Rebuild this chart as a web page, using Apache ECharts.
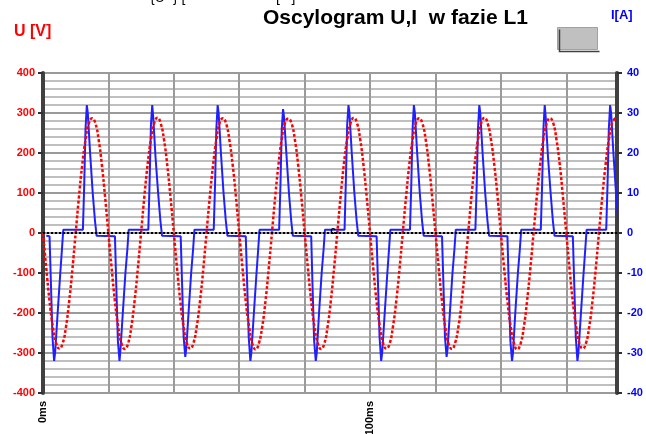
<!DOCTYPE html>
<html>
<head>
<meta charset="utf-8">
<script src="https://cdn.jsdelivr.net/npm/echarts@6/dist/echarts.min.js"></script>
<style>
  html, body { margin: 0; padding: 0; background: #fff; }
  #main { width: 646px; height: 434px; }
</style>
</head>
<body>
<div id="main"></div>
<script>
// napiecie U [V], probki co 1 ms (0..175 ms)
const voltage = [
  0, -88, -170, -234, -275, -289, -276, -236, -171, -90, 1, 91, 171, 233, 274, 287, 275, 234, 170, 89,
  -1, -89, -171, -235, -276, -290, -277, -235, -170, -89, 2, 92, 172, 234, 275, 288, 274, 233, 169, 88,
  0, -90, -172, -236, -276, -289, -275, -234, -171, -91, 1, 90, 170, 233, 276, 287, 273, 232, 170, 90,
  -1, -88, -171, -234, -277, -291, -276, -236, -172, -90, 0, 91, 171, 235, 275, 286, 274, 234, 171, 89,
  0, -89, -170, -235, -275, -290, -277, -235, -170, -88, 2, 92, 173, 234, 274, 288, 275, 233, 169, 88,
  -1, -90, -172, -234, -276, -289, -276, -234, -171, -90, 1, 90, 171, 233, 275, 287, 274, 234, 170, 89,
  0, -88, -171, -236, -277, -290, -275, -235, -172, -91, 0, 91, 172, 234, 276, 288, 273, 232, 169, 90,
  -1, -89, -170, -235, -276, -291, -277, -236, -170, -89, 1, 92, 171, 235, 274, 287, 275, 233, 171, 88,
  0, -90, -172, -234, -275, -289, -276, -235, -171, -90, 2, 91, 170, 233, 275, 287
];

// prad I [A], punkty [t ms, I]
const current = [
  [1.0, -0.7], [2.0, -0.8], [2.4, -12], [2.9, -26], [3.4, -32], [3.7, -30], [4.4, -21], [5.2, -11], [5.8, -4], [6.2, 0.8],
  [12.2, 0.8], [12.6, 12], [13.0, 26], [13.4, 32], [13.7, 30], [14.4, 20], [15.2, 10], [15.9, 3], [16.4, -0.7],
  [22.0, -0.8], [22.4, -13], [22.9, -27], [23.4, -32], [23.7, -29], [24.4, -20], [25.2, -10], [25.8, -4], [26.2, 0.8],
  [32.2, 0.8], [32.6, 13], [33.0, 27], [33.4, 32], [33.7, 29], [34.4, 19], [35.2, 10], [35.9, 3], [36.4, -0.7],
  [42.1, -0.8], [42.5, -12], [43.0, -26], [43.5, -31], [43.8, -29], [44.5, -20], [45.3, -10], [45.9, -4], [46.3, 0.8],
  [52.2, 0.8], [52.6, 12], [53.0, 26], [53.4, 32], [53.7, 30], [54.4, 20], [55.2, 10], [55.9, 3], [56.4, -0.7],
  [62.0, -0.8], [62.4, -12], [62.9, -26], [63.4, -32], [63.7, -30], [64.4, -21], [65.2, -11], [65.8, -4], [66.2, 0.8],
  [72.2, 0.8], [72.6, 12], [73.0, 26], [73.4, 31], [73.7, 29], [74.4, 20], [75.2, 10], [75.9, 3], [76.4, -0.7],
  [82.0, -0.8], [82.4, -13], [82.9, -27], [83.4, -32], [83.7, -30], [84.4, -20], [85.2, -10], [85.8, -4], [86.2, 0.8],
  [92.2, 0.8], [92.6, 13], [93.0, 27], [93.4, 32], [93.7, 30], [94.4, 20], [95.2, 10], [95.9, 3], [96.4, -0.7],
  [102.0, -0.8], [102.4, -12], [102.9, -26], [103.4, -32], [103.7, -30], [104.4, -21], [105.2, -11], [105.8, -4], [106.2, 0.8],
  [112.2, 0.8], [112.6, 12], [113.0, 26], [113.4, 32], [113.7, 30], [114.4, 20], [115.2, 10], [115.9, 3], [116.4, -0.7],
  [122.0, -0.8], [122.4, -12], [122.9, -26], [123.4, -31], [123.7, -29], [124.4, -20], [125.2, -10], [125.8, -4], [126.2, 0.8],
  [132.2, 0.8], [132.6, 12], [133.0, 26], [133.4, 32], [133.7, 30], [134.4, 20], [135.2, 10], [135.9, 3], [136.4, -0.7],
  [142.0, -0.8], [142.4, -13], [142.9, -27], [143.4, -32], [143.7, -30], [144.4, -20], [145.2, -10], [145.8, -4], [146.2, 0.8],
  [152.2, 0.8], [152.6, 12], [153.0, 26], [153.4, 32], [153.7, 29], [154.4, 19], [155.2, 10], [155.9, 3], [156.4, -0.7],
  [162.0, -0.8], [162.4, -12], [162.9, -26], [163.4, -32], [163.7, -30], [164.4, -21], [165.2, -11], [165.8, -4], [166.2, 0.8],
  [172.2, 0.8], [172.6, 12], [173.0, 26], [173.4, 32], [173.7, 30], [174.4, 20], [175.2, 10], [175.9, 3]
];

const timeLabels = { 0: '0ms', 100: '100ms' };

var dom = document.getElementById('main');
var myChart = echarts.init(dom, null, { renderer: 'canvas' });

var option = {
  backgroundColor: '#ffffff',
  animation: false,
  textStyle: { fontFamily: 'Liberation Sans, Arial, sans-serif' },
  grid: { left: 43, right: 29, top: 73, bottom: 41, outerBoundsMode: 'none', containLabel: false },
  graphic: [
    {
      type: 'text', left: 263, top: 8,
      style: { text: 'Oscylogram U,I  w fazie L1', font: 'bold 21px "Liberation Sans", Arial', fill: '#000' }
    },
    {
      type: 'text', left: 14, top: 24,
      style: { text: 'U [V]', font: 'bold 16px "Liberation Sans", Arial', fill: '#ff0000' }
    },
    {
      type: 'text', left: 611, top: 9,
      style: { text: 'I[A]', font: 'bold 13px "Liberation Sans", Arial', fill: '#0000ff' }
    },
    {
      type: 'text', left: 150, top: -9,
      style: { text: '{U~} [', font: '14px "Liberation Sans", Arial', fill: '#000' }
    },
    {
      type: 'text', left: 276, top: -9,
      style: { text: '[   ]', font: '14px "Liberation Sans", Arial', fill: '#000' }
    },
    {
      type: 'rect', left: 557, top: 27,
      shape: { width: 40, height: 22 },
      style: { fill: '#c0c0c0', stroke: '#a0a0a0', lineWidth: 1 }
    },
    {
      type: 'polyline', left: 557, top: 27,
      shape: { points: [[0, 0], [0, 22], [40, 22]] },
      style: { stroke: '#404040', lineWidth: 1.5, fill: null }
    }
  ],
  xAxis: {
    type: 'value',
    min: 0,
    max: 175.5,
    interval: 20,
    axisLine: { show: true, lineStyle: { color: '#909090', width: 2 } },
    axisTick: { show: false },
    axisLabel: {
      rotate: 90,
      margin: 8,
      color: '#000',
      fontWeight: 'bold',
      fontSize: 11,
      showMaxLabel: false,
      formatter: function (v) { return timeLabels[v] || ''; }
    },
    splitLine: { show: true, lineStyle: { color: '#9a9a9a', width: 2 } }
  },
  yAxis: [
    {
      type: 'value',
      min: -400,
      max: 400,
      interval: 100,
      position: 'left',
      axisLine: { show: true, onZero: false, lineStyle: { color: '#404040', width: 4 } },
      axisTick: { show: true, length: 5, lineStyle: { color: '#303030', width: 2 } },
      axisLabel: { color: '#ff0000', fontWeight: 'bold', fontSize: 11, margin: 8 },
      splitLine: { show: true, lineStyle: { color: '#9a9a9a', width: 2 } },
      minorTick: { show: false, splitNumber: 5 },
      minorSplitLine: { show: true, lineStyle: { color: '#ababab', width: 1.5 } }
    },
    {
      type: 'value',
      min: -40,
      max: 40,
      interval: 10,
      position: 'right',
      axisLine: { show: true, onZero: false, lineStyle: { color: '#404040', width: 4 } },
      axisTick: { show: true, length: 5, lineStyle: { color: '#303030', width: 2 } },
      axisLabel: { color: '#0000ff', fontWeight: 'bold', fontSize: 11, margin: 10 },
      splitLine: { show: false }
    }
  ],
  series: [
    {
      name: 'I',
      type: 'line',
      yAxisIndex: 1,
      data: current,
      symbol: 'none',
      lineStyle: { color: '#2020ff', width: 2 },
      z: 3
    },
    {
      name: 'U',
      type: 'line',
      yAxisIndex: 0,
      data: voltage.map(function (v, i) { return [i, v]; }),
      symbol: 'none',
      smooth: true,
      lineStyle: { color: '#ff0000', width: 2.5, type: [3, 2] },
      z: 4,
      markLine: {
        silent: true,
        symbol: 'none',
        label: { show: false },
        lineStyle: { color: '#000', type: 'dotted', width: 2 },
        data: [{ yAxis: 0 }]
      },
      markPoint: {
        symbol: 'rect',
        symbolSize: 1,
        itemStyle: { color: 'transparent' },
        label: { show: true, formatter: 'c', color: '#000', fontWeight: 'bold', fontSize: 10, offset: [0, -2] },
        data: [{ coord: [88.7, 0] }]
      }
    }
  ]
};

if (option && typeof option === 'object') {
  myChart.setOption(option);
}

window.addEventListener('resize', myChart.resize);
</script>
</body>
</html>
